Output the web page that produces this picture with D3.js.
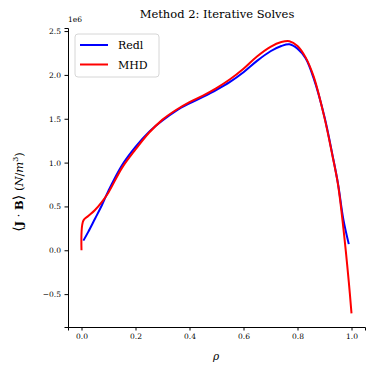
<!DOCTYPE html>
<html>
<head>
<meta charset="utf-8">
<script src="https://cdn.jsdelivr.net/npm/d3@7"></script>
<style>
  body { margin: 0; background: #fff; }
  text { font-family: "DejaVu Serif", serif; fill: #000; }
</style>
</head>
<body>
<div id="chart"></div>
<script>
const rho = [0, 0.007, 0.025, 0.05, 0.075, 0.1, 0.15, 0.2, 0.25, 0.3, 0.35, 0.4, 0.45, 0.5,
  0.55, 0.6, 0.65, 0.7, 0.74, 0.77, 0.8, 0.83, 0.86, 0.9, 0.93, 0.95, 0.97, 0.99, 1.0];
const redl = [null, 0.11, 0.21, 0.36, 0.51, 0.68, 0.97, 1.18, 1.35, 1.48, 1.59, 1.675, 1.75, 1.83,
  1.92, 2.03, 2.16, 2.27, 2.33, 2.35, 2.3, 2.19, 1.96, 1.52, 1.08, 0.76, 0.35, 0.07, null];
const mhd = [0, 0.34, 0.39, 0.46, 0.55, 0.66, 0.94, 1.15, 1.34, 1.49, 1.6, 1.69, 1.765, 1.85,
  1.95, 2.07, 2.21, 2.32, 2.375, 2.385, 2.33, 2.2, 1.98, 1.51, 1.07, 0.75, 0.25, -0.36, -0.72];
const xTicks = [0, 0.2, 0.4, 0.6, 0.8, 1.0];
const yTicks = [-0.5, 0, 0.5, 1.0, 1.5, 2.0, 2.5];
const seriesNames = ["Redl", "MHD"];
const seriesColors = ["#0000ff", "#ff0000"];

const width = 374;
const height = 374;
const margin = { left: 68, right: 9, top: 28, bottom: 47 };

const svg = d3.select("#chart").append("svg")
  .attr("width", width).attr("height", height);

const x = d3.scaleLinear().domain([-0.05, 1.05]).range([margin.left, width - margin.right]);
const y = d3.scaleLinear().domain([-0.875, 2.535]).range([height - margin.bottom, margin.top]);

const line = (vals) => d3.line()
  .defined((d, i) => vals[i] !== null)
  .x((d, i) => x(rho[i]))
  .y((d, i) => y(vals[i]))
  .curve(d3.curveCatmullRom.alpha(0.5))(vals);

[redl, mhd].forEach((vals, k) => {
  svg.append("path")
    .attr("d", line(vals))
    .attr("fill", "none")
    .attr("stroke", seriesColors[k])
    .attr("stroke-width", 2);
});

const xAxis = svg.append("g")
  .attr("transform", `translate(0, ${height - margin.bottom})`)
  .call(d3.axisBottom(x).tickValues(xTicks).tickFormat(d3.format(".1f")).tickSizeOuter(0).tickSize(3.5).tickPadding(3.5));
const yAxis = svg.append("g")
  .attr("transform", `translate(${margin.left}, 0)`)
  .call(d3.axisLeft(y).tickValues(yTicks).tickFormat((d) => d < 0 ? "\u2212" + d3.format(".1f")(-d) : d3.format(".1f")(d)).tickSizeOuter(0).tickSize(3.5).tickPadding(3.5));
[xAxis, yAxis].forEach((g) => {
  g.select(".domain").attr("stroke", "#000").attr("stroke-width", 1);
  g.selectAll(".tick line").attr("stroke", "#000");
  g.selectAll(".tick text").attr("font-family", "DejaVu Serif").attr("font-size", 7.5);
});

svg.append("text").attr("x", margin.left).attr("y", margin.top - 6)
  .attr("font-size", 7.5).text("1e6");

svg.append("text").attr("x", 217).attr("y", 18).attr("text-anchor", "middle")
  .attr("font-size", 11.5).text("Method 2: Iterative Solves");

svg.append("text").attr("x", 216).attr("y", 360).attr("text-anchor", "middle")
  .attr("font-size", 10.5).attr("font-style", "italic").text("ρ");

// y label: <J . B> (N/m^3)
const yl = svg.append("text")
  .attr("transform", `translate(23, 192) rotate(-90)`)
  .attr("text-anchor", "middle").attr("font-size", 11.5);
yl.append("tspan").attr("font-size", 14).attr("font-weight", 200).text("⟨");
yl.append("tspan").attr("font-weight", "bold").text("J");
yl.append("tspan").text(" · ");
yl.append("tspan").attr("font-weight", "bold").text("B");
yl.append("tspan").attr("font-size", 14).attr("font-weight", 200).text("⟩");
yl.append("tspan").text(" (");
yl.append("tspan").attr("font-style", "italic").text("N");
yl.append("tspan").text("/");
yl.append("tspan").attr("font-style", "italic").text("m");
yl.append("tspan").attr("font-size", 8).attr("dy", -5).text("3");
yl.append("tspan").attr("dy", 5).text(")");

const legend = svg.append("g").attr("transform", "translate(75, 34)");
legend.append("rect").attr("width", 84).attr("height", 43).attr("rx", 3)
  .attr("fill", "#fff").attr("fill-opacity", 0.8).attr("stroke", "#d6d6d6");
seriesNames.forEach((name, k) => {
  const ly = 11 + k * 19.5;
  legend.append("line").attr("x1", 5).attr("x2", 33).attr("y1", ly).attr("y2", ly)
    .attr("stroke", seriesColors[k]).attr("stroke-width", 2);
  legend.append("text").attr("x", 43).attr("y", ly + 4).attr("font-size", 11).text(name);
});
</script>
</body>
</html>
